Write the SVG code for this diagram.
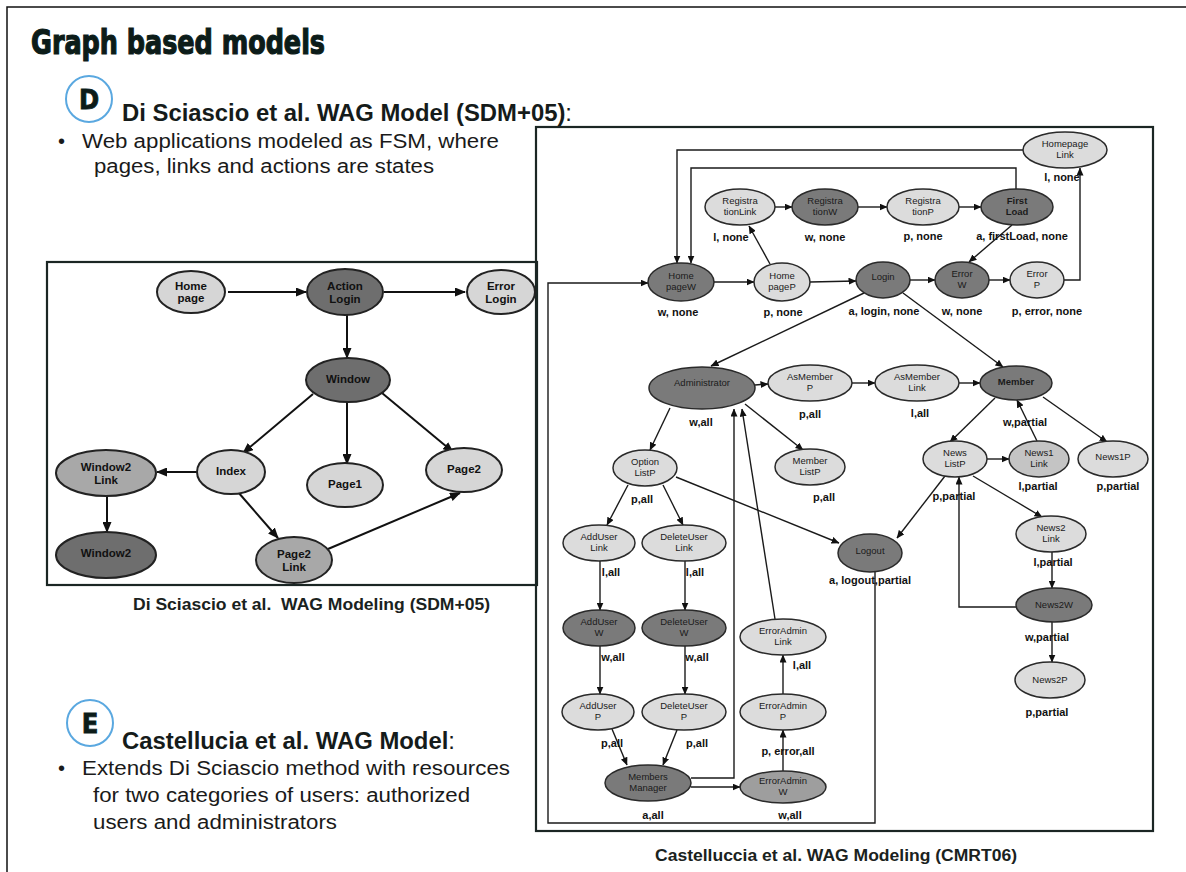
<svg xmlns="http://www.w3.org/2000/svg" width="1186" height="872" viewBox="0 0 1186 872">
<defs>
<style>
.bg{fill:#ffffff}
.frame{fill:none;stroke:#111;stroke-width:1.5}
.box{fill:none;stroke:#1b2624;stroke-width:2.2}
.title{font-family:"DejaVu Sans Condensed","DejaVu Sans",sans-serif;font-weight:bold;font-size:34px;fill:#0c1c19;stroke:#0c1c19;stroke-width:1.2}
.badge{fill:#fff;stroke:#5aa8e0;stroke-width:2}
.badgeT{font-family:"DejaVu Sans Condensed","DejaVu Sans",sans-serif;font-weight:bold;font-size:27px;fill:#0c1c19;stroke:#0c1c19;stroke-width:0.8;text-anchor:middle}
.head{font-family:"Liberation Sans",Arial,sans-serif;font-weight:bold;font-size:23px;fill:#151b1a}
.body{font-family:"Liberation Sans",Arial,sans-serif;font-size:20px;fill:#1a1a1a}
.cap{font-family:"Liberation Sans",Arial,sans-serif;font-weight:bold;font-size:16px;fill:#1a2220;white-space:pre}
.ln{fill:none;stroke:#111;stroke-width:2}
.rn{fill:none;stroke:#1a1a1a;stroke-width:1.4}
.L1{fill:#d6d6d6;stroke:#222;stroke-width:2}
.D1{fill:#6e6e6e;stroke:#222;stroke-width:2}
.M1{fill:#a8a8a8;stroke:#222;stroke-width:2}
.lt{font-family:"Liberation Sans",Arial,sans-serif;font-weight:bold;font-size:11.5px;fill:#111;text-anchor:middle}
.L2{fill:#dcdcdc;stroke:#2a2a2a;stroke-width:1.5}
.D2{fill:#7a7a7a;stroke:#2a2a2a;stroke-width:1.5}
.M2{fill:#c4c4c4;stroke:#2a2a2a;stroke-width:1.5}
.M3{fill:#9e9e9e;stroke:#2a2a2a;stroke-width:1.5}
.rt{font-family:"Liberation Sans",Arial,sans-serif;font-size:9.5px;fill:#1a1a1a;text-anchor:middle}
.el{font-family:"Liberation Sans",Arial,sans-serif;font-weight:bold;font-size:11px;fill:#111;text-anchor:middle}
</style>
<marker id="aL" markerWidth="11" markerHeight="9" refX="10" refY="4.5" orient="auto" markerUnits="userSpaceOnUse"><path d="M0,0 L11,4.5 L0,9 z" fill="#111"/></marker>
<marker id="aR" markerWidth="8" markerHeight="7" refX="7.5" refY="3.5" orient="auto" markerUnits="userSpaceOnUse"><path d="M0,0 L8,3.5 L0,7 z" fill="#111"/></marker>
</defs>
<rect class="bg" x="0" y="0" width="1186" height="872"/>
<path class="frame" d="M7,872 L7,7 L1186,7"/>

<g id="slide-text">
<text class="title" x="31" y="54" textLength="294" lengthAdjust="spacingAndGlyphs">Graph based models</text>
<circle class="badge" cx="89" cy="99" r="23"/>
<text class="badgeT" x="89" y="109">D</text>
<text class="head" x="122" y="121" textLength="450" lengthAdjust="spacingAndGlyphs">Di Sciascio et al. WAG Model (SDM+05)<tspan font-weight="normal">:</tspan></text>
<text class="body" x="58" y="148">•</text>
<text class="body" x="82" y="148" textLength="417" lengthAdjust="spacingAndGlyphs">Web applications modeled as FSM, where</text>
<text class="body" x="94" y="173" textLength="340" lengthAdjust="spacingAndGlyphs">pages, links and actions are states</text>
<circle class="badge" cx="90" cy="723" r="23"/>
<text class="badgeT" x="90" y="733">E</text>
<text class="head" x="122" y="749" textLength="333" lengthAdjust="spacingAndGlyphs">Castellucia et al. WAG Model<tspan font-weight="normal">:</tspan></text>
<text class="body" x="58" y="775">•</text>
<text class="body" x="82" y="775" textLength="428" lengthAdjust="spacingAndGlyphs">Extends Di Sciascio method with resources</text>
<text class="body" x="93" y="802" textLength="377" lengthAdjust="spacingAndGlyphs">for two categories of users: authorized</text>
<text class="body" x="93" y="829" textLength="244" lengthAdjust="spacingAndGlyphs">users and administrators</text>
<text class="cap" x="133" y="610" textLength="357" lengthAdjust="spacingAndGlyphs">Di Sciascio et al.  WAG Modeling (SDM+05)</text>
<text class="cap" x="655" y="861" textLength="362" lengthAdjust="spacingAndGlyphs">Castelluccia et al. WAG Modeling (CMRT06)</text>
</g>

<rect class="box" x="47" y="262" width="490" height="323"/>
<rect class="box" x="536" y="127" width="617" height="704"/>

<g id="connectors-left">
<path class="ln" d="M228,292 L306,292" marker-end="url(#aL)"/>
<path class="ln" d="M384,292 L465,292" marker-end="url(#aL)"/>
<path class="ln" d="M347,315 L347,358" marker-end="url(#aL)"/>
<path class="ln" d="M313,394 L243,453" marker-end="url(#aL)"/>
<path class="ln" d="M347,402 L347,464" marker-end="url(#aL)"/>
<path class="ln" d="M382,393 L453,452" marker-end="url(#aL)"/>
<path class="ln" d="M197,472 L157,472" marker-end="url(#aL)"/>
<path class="ln" d="M107,496 L107,532" marker-end="url(#aL)"/>
<path class="ln" d="M238,492 L278,538" marker-end="url(#aL)"/>
<path class="ln" d="M328,549 L460,493" marker-end="url(#aL)"/>
</g>

<g id="connectors-right">
<path class="rn" d="M1023,150 L677,150 L677,263" marker-end="url(#aR)"/>
<path class="rn" d="M1016,189 L1016,168 L691,168 L691,263" marker-end="url(#aR)"/>
<path class="rn" d="M770,264 L749,226" marker-end="url(#aR)"/>
<path class="rn" d="M775,207 L792,207" marker-end="url(#aR)"/>
<path class="rn" d="M858,207 L887,207" marker-end="url(#aR)"/>
<path class="rn" d="M959,207 L981,207" marker-end="url(#aR)"/>
<path class="rn" d="M1012,225 L969,262" marker-end="url(#aR)"/>
<path class="rn" d="M714,282 L754,282" marker-end="url(#aR)"/>
<path class="rn" d="M810,282 L856,281" marker-end="url(#aR)"/>
<path class="rn" d="M910,280 L935,280" marker-end="url(#aR)"/>
<path class="rn" d="M989,280 L1010,280" marker-end="url(#aR)"/>
<path class="rn" d="M1064,280 L1080,280 L1080,168" marker-end="url(#aR)"/>
<path class="rn" d="M864,293 L711,366" marker-end="url(#aR)"/>
<path class="rn" d="M903,293 L1003,367" marker-end="url(#aR)"/>
<path class="rn" d="M755,385 L768,384" marker-end="url(#aR)"/>
<path class="rn" d="M852,383 L875,383" marker-end="url(#aR)"/>
<path class="rn" d="M959,383 L980,383" marker-end="url(#aR)"/>
<path class="rn" d="M670,408 L650,450" marker-end="url(#aR)"/>
<path class="rn" d="M745,404 L803,450" marker-end="url(#aR)"/>
<path class="rn" d="M691,778 L734,778 L734,409" marker-end="url(#aR)"/>
<path class="rn" d="M775,619 L742,409" marker-end="url(#aR)"/>
<path class="rn" d="M995,398 L950,442" marker-end="url(#aR)"/>
<path class="rn" d="M1037,441 L1017,400" marker-end="url(#aR)"/>
<path class="rn" d="M1043,397 L1107,442" marker-end="url(#aR)"/>
<path class="rn" d="M987,459 L1009,459" marker-end="url(#aR)"/>
<path class="rn" d="M1016,607 L959,607 L959,477" marker-end="url(#aR)"/>
<path class="rn" d="M973,476 L1042,517" marker-end="url(#aR)"/>
<path class="rn" d="M945,476 L897,538" marker-end="url(#aR)"/>
<path class="rn" d="M676,477 L839,543" marker-end="url(#aR)"/>
<path class="rn" d="M875,572 L875,823 L548,823 L548,283 L648,283" marker-end="url(#aR)"/>
<path class="rn" d="M628,485 L607,525" marker-end="url(#aR)"/>
<path class="rn" d="M663,485 L683,525" marker-end="url(#aR)"/>
<path class="rn" d="M600,561 L600,610" marker-end="url(#aR)"/>
<path class="rn" d="M685,561 L685,610" marker-end="url(#aR)"/>
<path class="rn" d="M600,646 L600,694" marker-end="url(#aR)"/>
<path class="rn" d="M685,646 L685,694" marker-end="url(#aR)"/>
<path class="rn" d="M612,729 L627,765" marker-end="url(#aR)"/>
<path class="rn" d="M677,730 L663,765" marker-end="url(#aR)"/>
<path class="rn" d="M691,787 L740,787" marker-end="url(#aR)"/>
<path class="rn" d="M783,771 L783,730" marker-end="url(#aR)"/>
<path class="rn" d="M783,694 L783,655" marker-end="url(#aR)"/>
<path class="rn" d="M1052,552 L1052,588" marker-end="url(#aR)"/>
<path class="rn" d="M1052,622 L1052,662" marker-end="url(#aR)"/>
</g>

<g id="l-homepage"><ellipse class="L1" cx="191" cy="292" rx="34" ry="21"/><text class="lt" x="191" y="290">Home</text><text class="lt" x="191" y="302">page</text></g>
<g id="l-actionlogin"><ellipse class="D1" cx="345" cy="292" rx="38" ry="23"/><text class="lt" x="345" y="290">Action</text><text class="lt" x="345" y="303">Login</text></g>
<g id="l-errorlogin"><ellipse class="L1" cx="501" cy="292" rx="34" ry="22"/><text class="lt" x="501" y="290">Error</text><text class="lt" x="501" y="303">Login</text></g>
<g id="l-window"><ellipse class="D1" cx="348" cy="380" rx="42" ry="22"/><text class="lt" x="348" y="383">Window</text></g>
<g id="l-index"><ellipse class="L1" cx="231" cy="472" rx="34" ry="22"/><text class="lt" x="231" y="475">Index</text></g>
<g id="l-page1"><ellipse class="L1" cx="345" cy="485" rx="38" ry="22"/><text class="lt" x="345" y="488">Page1</text></g>
<g id="l-page2"><ellipse class="L1" cx="464" cy="470" rx="38" ry="22"/><text class="lt" x="464" y="473">Page2</text></g>
<g id="l-window2link"><ellipse class="M1" cx="106" cy="473" rx="50" ry="23"/><text class="lt" x="106" y="471">Window2</text><text class="lt" x="106" y="484">Link</text></g>
<g id="l-window2"><ellipse class="D1" cx="106" cy="555" rx="50" ry="23"/><text class="lt" x="106" y="557">Window2</text></g>
<g id="l-page2link"><ellipse class="M1" cx="294" cy="560" rx="38" ry="23"/><text class="lt" x="294" y="558">Page2</text><text class="lt" x="294" y="571">Link</text></g>

<g id="r-homepagelink"><ellipse class="L2" cx="1065" cy="150" rx="42" ry="18"/><text class="rt" x="1065" y="147">Homepage</text><text class="rt" x="1065" y="158">Link</text><text class="el" x="1062" y="181">l, none</text></g>
<g id="r-reglink"><ellipse class="L2" cx="740" cy="207" rx="35" ry="18"/><text class="rt" x="740" y="204">Registra</text><text class="rt" x="740" y="215">tionLink</text><text class="el" x="731" y="241">l, none</text></g>
<g id="r-regw"><ellipse class="D2" cx="825" cy="207" rx="33" ry="18"/><text class="rt" x="825" y="204">Registra</text><text class="rt" x="825" y="215">tionW</text><text class="el" x="825" y="241">w, none</text></g>
<g id="r-regp"><ellipse class="L2" cx="923" cy="207" rx="36" ry="18"/><text class="rt" x="923" y="204">Registra</text><text class="rt" x="923" y="215">tionP</text><text class="el" x="923" y="240">p, none</text></g>
<g id="r-firstload"><ellipse class="D2" cx="1017" cy="207" rx="36" ry="18"/><text class="rt" x="1017" y="204" font-weight="bold">First</text><text class="rt" x="1017" y="215" font-weight="bold">Load</text><text class="el" x="1022" y="240">a, firstLoad, none</text></g>
<g id="r-homepagew"><ellipse class="D2" cx="681" cy="282" rx="33" ry="19"/><text class="rt" x="681" y="279">Home</text><text class="rt" x="681" y="290">pageW</text><text class="el" x="678" y="316">w, none</text></g>
<g id="r-homepagep"><ellipse class="L2" cx="782" cy="282" rx="28" ry="19"/><text class="rt" x="782" y="279">Home</text><text class="rt" x="782" y="290">pageP</text><text class="el" x="783" y="316">p, none</text></g>
<g id="r-login"><ellipse class="D2" cx="883" cy="280" rx="27" ry="18"/><text class="rt" x="883" y="280">Login</text><text class="el" x="884" y="315">a, login, none</text></g>
<g id="r-errorw"><ellipse class="D2" cx="962" cy="280" rx="27" ry="18"/><text class="rt" x="962" y="277">Error</text><text class="rt" x="962" y="288">W</text><text class="el" x="962" y="315">w, none</text></g>
<g id="r-errorp"><ellipse class="L2" cx="1037" cy="280" rx="27" ry="18"/><text class="rt" x="1037" y="277">Error</text><text class="rt" x="1037" y="288">P</text><text class="el" x="1047" y="315">p, error, none</text></g>
<g id="r-administrator"><ellipse class="D2" cx="702" cy="388" rx="53" ry="21"/><text class="rt" x="702" y="386">Administrator</text><text class="el" x="701" y="426">w,all</text></g>
<g id="r-asmemberp"><ellipse class="L2" cx="810" cy="383" rx="42" ry="18"/><text class="rt" x="810" y="380">AsMember</text><text class="rt" x="810" y="391">P</text><text class="el" x="810" y="418">p,all</text></g>
<g id="r-asmemberlink"><ellipse class="L2" cx="917" cy="383" rx="42" ry="18"/><text class="rt" x="917" y="380">AsMember</text><text class="rt" x="917" y="391">Link</text><text class="el" x="920" y="417">l,all</text></g>
<g id="r-member"><ellipse class="D2" cx="1016" cy="383" rx="36" ry="17"/><text class="rt" x="1016" y="385" font-weight="bold">Member</text><text class="el" x="1025" y="426">w,partial</text></g>
<g id="r-optionlistp"><ellipse class="L2" cx="645" cy="468" rx="32" ry="18"/><text class="rt" x="645" y="465">Option</text><text class="rt" x="645" y="476">ListP</text><text class="el" x="642" y="503">p,all</text></g>
<g id="r-memberlistp"><ellipse class="L2" cx="810" cy="467" rx="35" ry="18"/><text class="rt" x="810" y="464">Member</text><text class="rt" x="810" y="475">ListP</text><text class="el" x="824" y="501">p,all</text></g>
<g id="r-newslistp"><ellipse class="L2" cx="955" cy="459" rx="32" ry="18"/><text class="rt" x="955" y="456">News</text><text class="rt" x="955" y="467">ListP</text><text class="el" x="954" y="500">p,partial</text></g>
<g id="r-news1link"><ellipse class="M2" cx="1039" cy="459" rx="30" ry="18"/><text class="rt" x="1039" y="456">News1</text><text class="rt" x="1039" y="467">Link</text><text class="el" x="1038" y="490">l,partial</text></g>
<g id="r-news1p"><ellipse class="L2" cx="1113" cy="459" rx="35" ry="18"/><text class="rt" x="1113" y="460">News1P</text><text class="el" x="1118" y="490">p,partial</text></g>
<g id="r-adduserlink"><ellipse class="L2" cx="599" cy="543" rx="36" ry="18"/><text class="rt" x="599" y="540">AddUser</text><text class="rt" x="599" y="551">Link</text><text class="el" x="611" y="576">l,all</text></g>
<g id="r-deleteuserlink"><ellipse class="L2" cx="684" cy="543" rx="42" ry="18"/><text class="rt" x="684" y="540">DeleteUser</text><text class="rt" x="684" y="551">Link</text><text class="el" x="695" y="576">l,all</text></g>
<g id="r-logout"><ellipse class="D2" cx="870" cy="553" rx="32" ry="19"/><text class="rt" x="870" y="554">Logout</text><text class="el" x="870" y="584">a, logout,partial</text></g>
<g id="r-news2link"><ellipse class="L2" cx="1051" cy="534" rx="35" ry="18"/><text class="rt" x="1051" y="531">News2</text><text class="rt" x="1051" y="542">Link</text><text class="el" x="1053" y="566">l,partial</text></g>
<g id="r-adduserw"><ellipse class="D2" cx="599" cy="628" rx="36" ry="18"/><text class="rt" x="599" y="625">AddUser</text><text class="rt" x="599" y="636">W</text><text class="el" x="613" y="661">w,all</text></g>
<g id="r-deleteuserw"><ellipse class="D2" cx="684" cy="628" rx="42" ry="18"/><text class="rt" x="684" y="625">DeleteUser</text><text class="rt" x="684" y="636">W</text><text class="el" x="697" y="661">w,all</text></g>
<g id="r-erroradminlink"><ellipse class="L2" cx="783" cy="637" rx="43" ry="18"/><text class="rt" x="783" y="634">ErrorAdmin</text><text class="rt" x="783" y="645">Link</text><text class="el" x="802" y="669">l,all</text></g>
<g id="r-news2w"><ellipse class="D2" cx="1054" cy="605" rx="38" ry="17"/><text class="rt" x="1054" y="608">News2W</text><text class="el" x="1047" y="641">w,partial</text></g>
<g id="r-news2p"><ellipse class="L2" cx="1050" cy="680" rx="35" ry="18"/><text class="rt" x="1050" y="683">News2P</text><text class="el" x="1047" y="716">p,partial</text></g>
<g id="r-adduserp"><ellipse class="L2" cx="598" cy="712" rx="36" ry="18"/><text class="rt" x="598" y="709">AddUser</text><text class="rt" x="598" y="720">P</text><text class="el" x="612" y="747">p,all</text></g>
<g id="r-deleteuserp"><ellipse class="L2" cx="684" cy="712" rx="42" ry="18"/><text class="rt" x="684" y="709">DeleteUser</text><text class="rt" x="684" y="720">P</text><text class="el" x="697" y="747">p,all</text></g>
<g id="r-erroradminp"><ellipse class="L2" cx="783" cy="712" rx="43" ry="18"/><text class="rt" x="783" y="709">ErrorAdmin</text><text class="rt" x="783" y="720">P</text><text class="el" x="788" y="755">p, error,all</text></g>
<g id="r-membersmanager"><ellipse class="D2" cx="648" cy="783" rx="43" ry="18"/><text class="rt" x="648" y="780">Members</text><text class="rt" x="648" y="791">Manager</text><text class="el" x="653" y="819">a,all</text></g>
<g id="r-erroradminw"><ellipse class="M3" cx="783" cy="787" rx="43" ry="16"/><text class="rt" x="783" y="784">ErrorAdmin</text><text class="rt" x="783" y="795">W</text><text class="el" x="790" y="819">w,all</text></g>
</svg>
